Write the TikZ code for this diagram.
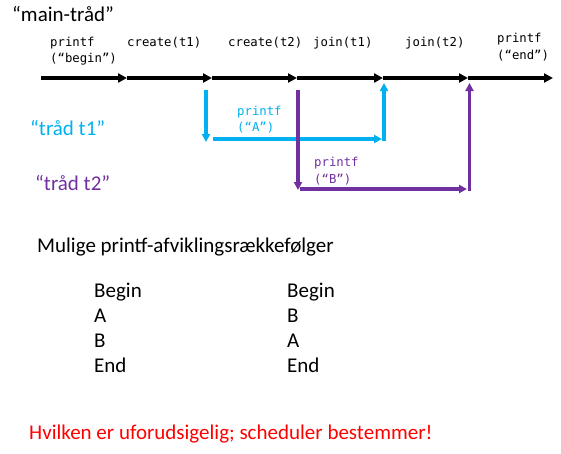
\documentclass[tikz,border=0pt]{standalone}
\usepackage{fontspec}
\setmainfont{Carlito}
\newfontfamily\monof{DejaVu Sans Mono}
\usetikzlibrary{arrows.meta}
\definecolor{tblue}{HTML}{00B0F0}
\definecolor{tpurple}{HTML}{7030A0}
\definecolor{tred}{HTML}{FF0000}
\tikzset{
  big/.style={font=\fontsize{21}{25}\selectfont, inner sep=0pt, anchor=base west},
  mono/.style={font=\monof\fontsize{12.3}{16.3}\selectfont, inner sep=0pt, anchor=base west, align=left},
  mainarrow/.style={line width=4pt, -{Triangle[length=9pt,width=9pt]}},
  threadarrow/.style={line width=3.5pt, -{Triangle[length=8pt,width=8pt]}},
}
\begin{document}
\begin{tikzpicture}[x=1pt,y=-1pt]
\useasboundingbox (0,0) rectangle (561,453);
% main line points
\coordinate (m0) at (41,78);
\coordinate (m1) at (127,78);
\coordinate (m2) at (212,78);
\coordinate (m3) at (297,78);
\coordinate (m4) at (383,78);
\coordinate (m5) at (468,78);
\coordinate (m6) at (553,78);
\foreach \a/\b in {m0/m1,m1/m2,m2/m3,m3/m4,m4/m5,m5/m6}
  \draw[mainarrow] (\a) -- (\b);
% labels
\node[big] (mainlbl) at (12,21.5) {“main-tråd”};
\node[mono] (l1) at (50,62.5) {printf\\(“begin”)};
\node[mono] (l2) at (127,46.5) {create(t1)};
\node[mono] (l3) at (228,46.5) {create(t2)};
\node[mono] (l4) at (313,46.5) {join(t1)};
\node[mono] (l5) at (405,46.5) {join(t2)};
\node[mono] (l6) at (497,59) {printf\\(“end”)};
% thread t1
\node[big, text=tblue] (t1lbl) at (30,135) {“tråd t1”};
\coordinate (b0) at (206,90);
\coordinate (b1) at (206,142);
\coordinate (b2) at (213,139);
\coordinate (b3) at (382,139);
\coordinate (b4) at (384,141);
\coordinate (b5) at (384,83);
\draw[threadarrow, tblue] (b0) -- (b1);
\draw[threadarrow, tblue] (b2) -- (b3);
\draw[threadarrow, tblue] (b4) -- (b5);
\node[mono, text=tblue] (pa) at (237,131.5) {printf\\(“A”)};
% thread t2
\node[big, text=tpurple] (t2lbl) at (35,190) {“tråd t2”};
\coordinate (p0) at (298,90);
\coordinate (p1) at (298,190);
\coordinate (p2) at (300,189);
\coordinate (p3) at (467,189);
\coordinate (p4) at (469.5,191);
\coordinate (p5) at (469.5,83);
\draw[threadarrow, tpurple] (p0) -- (p1);
\draw[threadarrow, tpurple] (p2) -- (p3);
\draw[threadarrow, tpurple] (p4) -- (p5);
\node[mono, text=tpurple] (pb) at (314,183) {printf\\(“B”)};
% orders
\node[big] (hdr) at (37,252) {Mulige printf-afviklingsrækkefølger};
\node[big] (c1a) at (94,297.5) {Begin};
\node[big] (c1b) at (94,322.5) {A};
\node[big] (c1c) at (94,347.5) {B};
\node[big] (c1d) at (94,372.5) {End};
\node[big] (c2a) at (287,297.5) {Begin};
\node[big] (c2b) at (287,322.5) {B};
\node[big] (c2c) at (287,347.5) {A};
\node[big] (c2d) at (287,372.5) {End};
\node[big, text=tred] (concl) at (29,439) {Hvilken er uforudsigelig; scheduler bestemmer!};
\end{tikzpicture}
\end{document}
